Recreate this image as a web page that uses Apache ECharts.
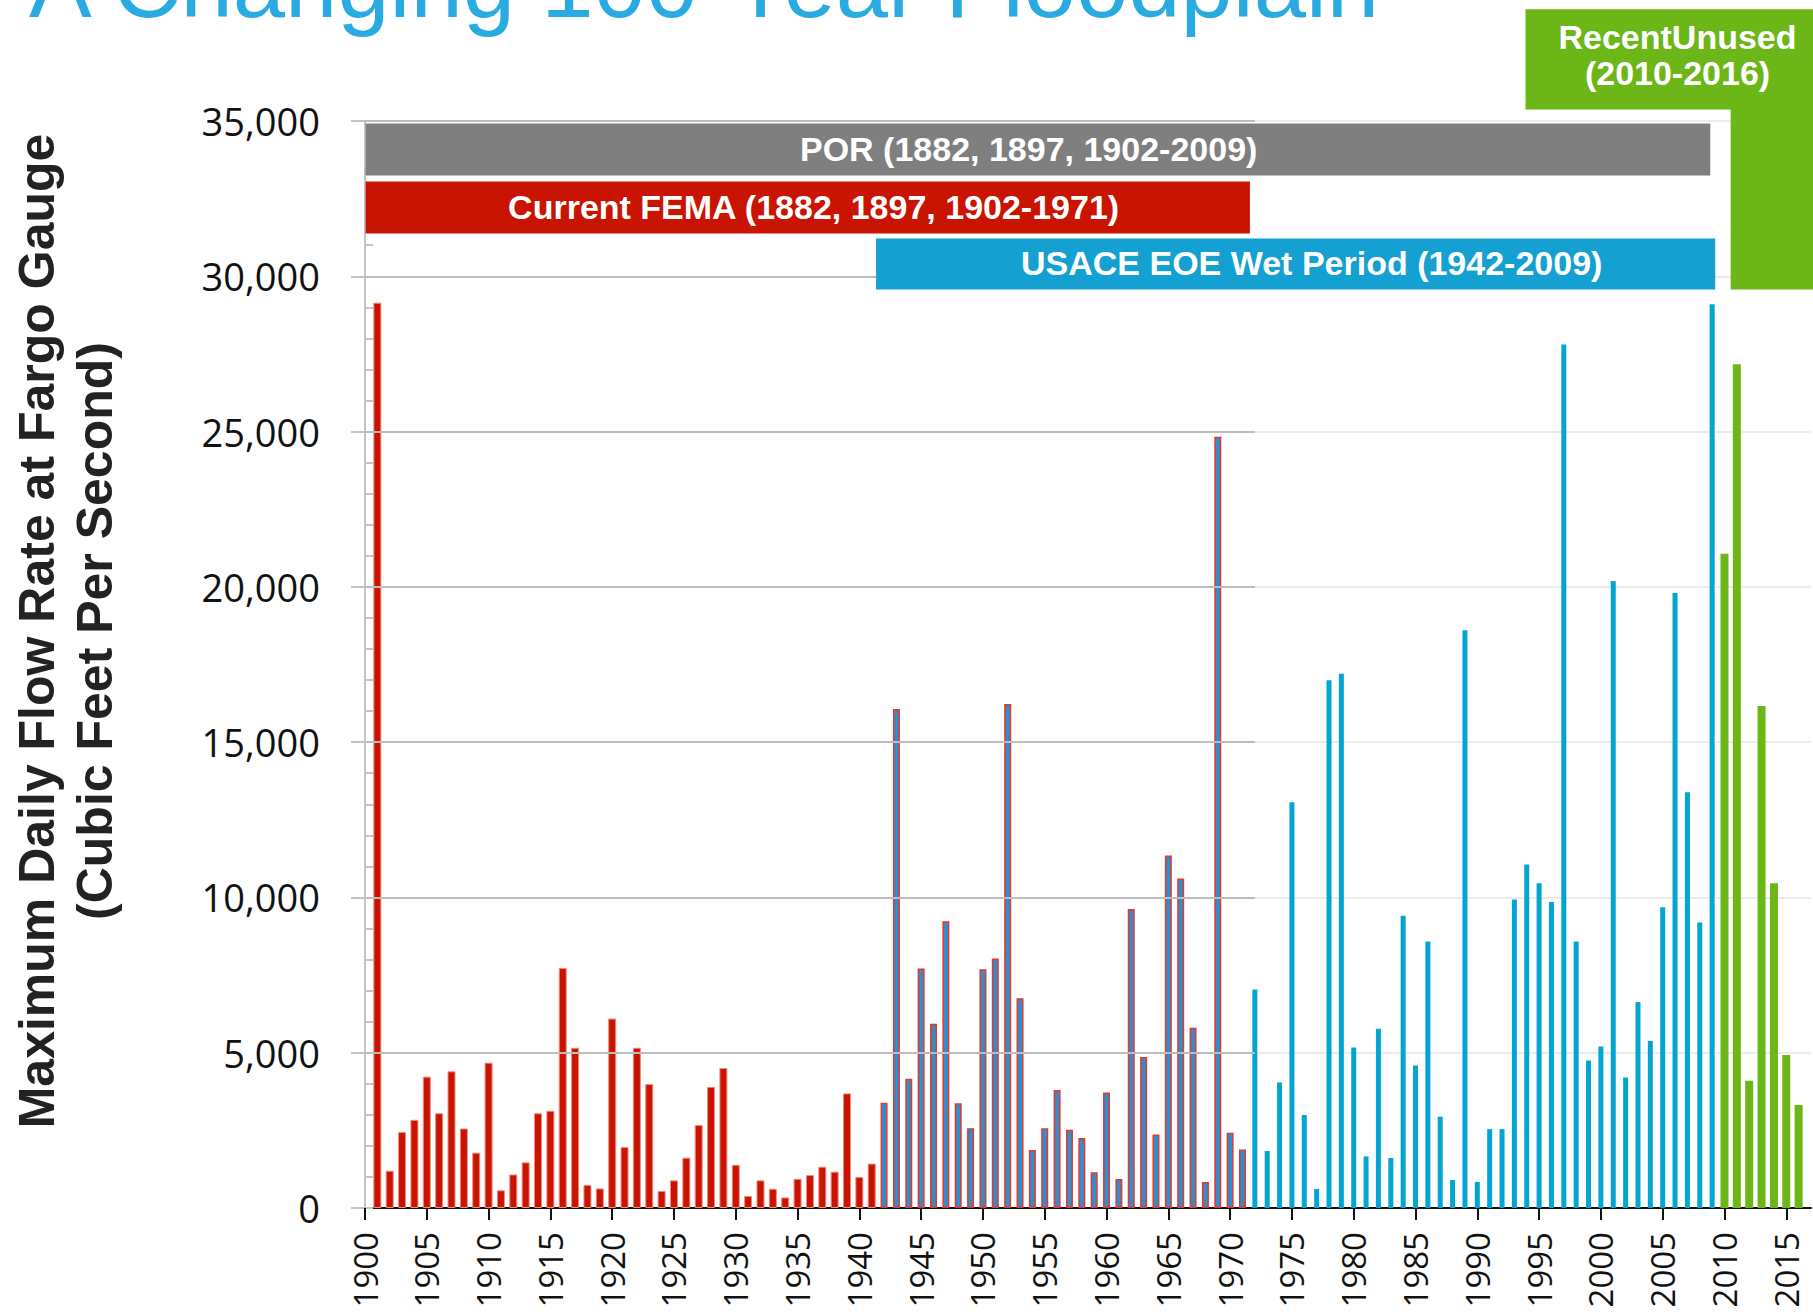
<!DOCTYPE html>
<html>
<head>
<meta charset="utf-8">
<title>A Changing 100-Year Floodplain</title>
<script src="https://cdn.jsdelivr.net/npm/echarts@6/dist/echarts.min.js"></script>
<style>
  html, body { margin: 0; padding: 0; background: #fff; }
  #chart { width: 1813px; height: 1312px; }
</style>
</head>
<body>
<div id="chart"></div>
<script>
// years on the axis (1900 has no bar, 2017 only pads the right edge)
const years = [];
for (let y = 1900; y <= 2017; y++) years.push(String(y));

// current FEMA record, 1901-1941
const femaStart = 1901;
const femaFlow = [29150, 1200, 2450, 2840, 4230, 3050, 4400, 2560, 1780, 4680,
  570, 1080, 1470, 3050, 3130, 7730, 5160, 740, 630, 6100,
  1960, 5160, 3990, 550, 890, 1620, 2670, 3900, 4510, 1390,
  390, 890, 620, 340, 940, 1060, 1330, 1170, 3690, 1000, 1430];

// wet period years that are also in the FEMA record, 1942-1971
const wetStart = 1942;
const wetFlow = [3390, 16070, 4160, 7710, 5930, 9230, 3370, 2570, 7690, 8030,
  16230, 6750, 1870, 2570, 3800, 2520, 2250, 1150, 3715, 930,
  9630, 4860, 2370, 11350, 10610, 5800, 840, 24830, 2420, 1880];

// wet period after the FEMA record, 1972-2009
const laterStart = 1972;
const laterFlow = [7035, 1835, 4045, 13065, 2995, 615, 16990, 17200, 5165, 1660,
  5770, 1610, 9410, 4590, 8580, 2940, 900, 18600, 840, 2540,
  2540, 9930, 11060, 10460, 9850, 27800, 8580, 4750, 5200, 20190,
  4200, 6630, 5380, 9680, 19800, 13390, 9190, 29100];

// recent years, not used
const recentStart = 2010;
const recentFlow = [21070, 27170, 4100, 16160, 10460, 4930, 3320];

const gridValues = [5000, 10000, 15000, 20000, 25000, 30000, 35000];

// period boxes above the bars
const bandLabels = ['POR (1882, 1897, 1902-2009)', 'Current FEMA (1882, 1897, 1902-1971)', 'USACE EOE Wet Period (1942-2009)'];
const bandFrom = [1900.05, 1900.05, 1941.35];
const bandTo = [2008.85, 1971.6, 2009.25];
const bandTop = [34917, 33050, 31213];
const bandBottom = [33242, 31374, 29571];
const bandTextAt = [1953.7, 1936.3, 1976.6];
const bandColors = ['#7f7f7f', '#c81400', '#14a0d0'];

const recentLabel = 'RecentUnused\n(2010-2016)';

function spread(start, vals) {
  return years.map(y => {
    const i = Number(y) - start;
    return i >= 0 && i < vals.length ? vals[i] : '-';
  });
}

const chart = echarts.init(document.getElementById('chart'), null, { renderer: 'svg' });

const hiddenX = () => ({
  type: 'category', data: years, boundaryGap: false, show: false, gridIndex: 0
});

const option = {
  animation: false,
  backgroundColor: '#fff',
  title: {
    text: 'A Changing 100-Year Floodplain',
    left: 29,
    top: -63,
    padding: 0,
    textStyle: { fontFamily: 'Liberation Sans', fontSize: 94, fontWeight: 'normal', color: '#29abe2' }
  },
  grid: { left: 365, right: 2, top: 121, bottom: 104 },
  xAxis: [
    {
      type: 'category',
      data: years,
      boundaryGap: false,
      axisLine: { lineStyle: { color: '#111', width: 2 } },
      axisTick: { interval: 4, length: 12, lineStyle: { color: '#111', width: 2 } },
      axisLabel: {
        interval: 4, rotate: 90, margin: 24,
        fontFamily: 'Open Sans', fontSize: 33, color: '#111'
      }
    },
    hiddenX(), hiddenX(), hiddenX()
  ],
  yAxis: [
    {
      type: 'value', position: 'left', min: 0, max: 35000, interval: 5000,
      axisLine: { show: true, lineStyle: { color: '#c4c4c4', width: 2 } },
      axisTick: { show: true, length: 14, lineStyle: { color: '#c4c4c4', width: 2 } },
      axisLabel: {
        margin: 45, fontFamily: 'Open Sans', fontSize: 38, color: '#111',
        formatter: v => v.toLocaleString('en-US')
      },
      splitLine: { lineStyle: { color: '#e6e6e6', width: 1.5 } }
    },
    {
      // minor ticks, drawn inward
      type: 'value', position: 'left', offset: 0, min: 0, max: 35000, interval: 1000,
      axisLine: { show: false },
      axisTick: { show: true, inside: true, length: 8, lineStyle: { color: '#c4c4c4', width: 2 } },
      axisLabel: { show: false },
      splitLine: { show: false }
    }
  ],
  series: [
    {
      type: 'bar', name: 'FEMA', xAxisIndex: 0, yAxisIndex: 0,
      data: spread(femaStart, femaFlow),
      barWidth: 8,
      itemStyle: { color: '#c81400', borderColor: '#f08a7c', borderWidth: 1 },
      markLine: {
        silent: true, symbol: 'none', label: { show: false },
        lineStyle: { color: '#bdbdbd', width: 2, type: 'solid' },
        data: gridValues.map(v => [{ xAxis: '1900', yAxis: v }, { xAxis: '1972', yAxis: v }])
      },
      z: 3
    },
    {
      type: 'bar', name: 'Wet FEMA', xAxisIndex: 1, yAxisIndex: 0,
      data: spread(wetStart, wetFlow),
      barWidth: 7,
      itemStyle: { color: '#2e8fcc', borderColor: '#e8362c', borderWidth: 1.5 },
      z: 3
    },
    {
      type: 'bar', name: 'Wet later', xAxisIndex: 2, yAxisIndex: 0,
      data: spread(laterStart, laterFlow),
      barWidth: 5,
      itemStyle: { color: '#03a6d3' },
      z: 3
    },
    {
      type: 'bar', name: 'Recent', xAxisIndex: 3, yAxisIndex: 0,
      data: spread(recentStart, recentFlow),
      barWidth: 8,
      itemStyle: { color: '#6cb618' },
      z: 3
    }
  ]
};

chart.setOption(option);

// boxes and side text, placed through the axes
const x0 = chart.convertToPixel({ xAxisIndex: 0 }, '1900');
const x1 = chart.convertToPixel({ xAxisIndex: 0 }, '2017');
const step = (x1 - x0) / 117;
const px = yr => x0 + (yr - 1900) * step;
const py = v => chart.convertToPixel({ yAxisIndex: 0 }, v);

const graphics = [];
bandLabels.forEach((label, i) => {
  const top = py(bandTop[i]);
  const bottom = py(bandBottom[i]);
  graphics.push({
    type: 'rect', z: 100,
    shape: { x: px(bandFrom[i]), y: top, width: px(bandTo[i]) - px(bandFrom[i]), height: bottom - top },
    style: { fill: bandColors[i] }
  });
  graphics.push({
    type: 'text', z: 101,
    x: px(bandTextAt[i]), y: (top + bottom) / 2 - 1,
    style: {
      text: label, fill: '#fff', font: 'bold 34px "Liberation Sans"',
      textAlign: 'center', textVerticalAlign: 'middle'
    }
  });
});

// green "recent" flag: upper block plus the column that runs down beside it
const gTop = py(38600), gMid = py(35367), gBottom = py(29571);
graphics.push({
  type: 'rect', z: 100,
  shape: { x: px(1993.9), y: gTop, width: px(2018) - px(1993.9), height: gMid - gTop },
  style: { fill: '#6cb618' }
});
graphics.push({
  type: 'rect', z: 100,
  shape: { x: px(2010.5), y: gMid - 1, width: px(2018) - px(2010.5), height: gBottom - gMid + 1 },
  style: { fill: '#6cb618' }
});
graphics.push({
  type: 'text', z: 101,
  x: px(2006.2), y: py(37137),
  style: {
    text: recentLabel, fill: '#fff', font: 'bold 34px "Liberation Sans"',
    lineHeight: 36, textAlign: 'center', textVerticalAlign: 'middle'
  }
});

// y axis title, two rotated lines
graphics.push({
  type: 'text', z: 101,
  x: 66, y: 631, rotation: Math.PI / 2,
  style: {
    text: 'Maximum Daily Flow Rate at Fargo Gauge\n(Cubic Feet Per Second)',
    fill: '#222', font: 'bold 50px "Liberation Sans"',
    lineHeight: 58, textAlign: 'center', textVerticalAlign: 'middle'
  }
});

chart.setOption({ graphic: graphics });
</script>
</body>
</html>
